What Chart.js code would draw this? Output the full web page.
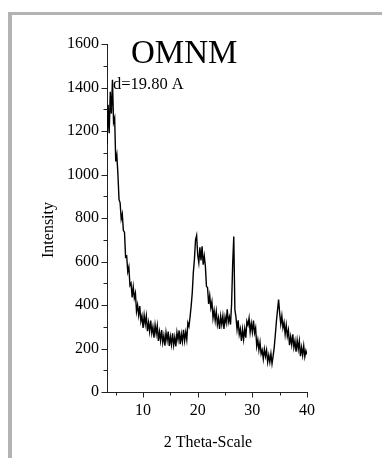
<!DOCTYPE html>
<html>
<head>
<meta charset="utf-8">
<title>OMNM</title>
<script src="https://cdn.jsdelivr.net/npm/chart.js@4/dist/chart.umd.min.js"></script>
<style>
  html, body { margin: 0; padding: 0; background: #fff; }
  #wrap { position: relative; width: 382px; height: 458px; overflow: hidden; }
  #frame {
    position: absolute; left: 8px; top: 12px; right: 0; bottom: 0;
    border-top: 3px solid #b3b3b3; border-left: 4px solid #b3b3b3;
  }
  canvas { position: absolute; left: 0; top: 0; }
</style>
</head>
<body>
<div id="wrap">
  <div id="frame"></div>
  <canvas id="xrdChart" width="382" height="458"></canvas>
</div>
<script>
// 2 theta (degrees)
const thetaValues = [
  3.4, 3.6, 3.8, 4.0, 4.2, 4.4, 4.6, 4.8, 5.0, 5.2,
  5.4, 5.6, 5.8, 6.0, 6.2, 6.4, 6.6, 6.8, 7.0, 7.2,
  7.4, 7.6, 7.8, 8.0, 8.2, 8.4, 8.6, 8.8, 9.0, 9.2,
  9.4, 9.6, 9.8, 10.0, 10.2, 10.4, 10.6, 10.8, 11.0, 11.2,
  11.4, 11.6, 11.8, 12.0, 12.2, 12.4, 12.6, 12.8, 13.0, 13.2,
  13.4, 13.6, 13.8, 14.0, 14.2, 14.4, 14.6, 14.8, 15.0, 15.2,
  15.4, 15.6, 15.8, 16.0, 16.2, 16.4, 16.6, 16.8, 17.0, 17.2,
  17.4, 17.6, 17.8, 18.0, 18.2, 18.4, 18.6, 18.8, 19.0, 19.2,
  19.4, 19.6, 19.8, 20.0, 20.2, 20.4, 20.6, 20.8, 21.0, 21.2,
  21.4, 21.6, 21.8, 22.0, 22.2, 22.4, 22.6, 22.8, 23.0, 23.2,
  23.4, 23.6, 23.8, 24.0, 24.2, 24.4, 24.6, 24.8, 25.0, 25.2,
  25.4, 25.6, 25.8, 26.0, 26.2, 26.4, 26.6, 26.8, 27.0, 27.2,
  27.4, 27.6, 27.8, 28.0, 28.2, 28.4, 28.6, 28.8, 29.0, 29.2,
  29.4, 29.6, 29.8, 30.0, 30.2, 30.4, 30.6, 30.8, 31.0, 31.2,
  31.4, 31.6, 31.8, 32.0, 32.2, 32.4, 32.6, 32.8, 33.0, 33.2,
  33.4, 33.6, 33.8, 34.0, 34.2, 34.4, 34.6, 34.8, 35.0, 35.2,
  35.4, 35.6, 35.8, 36.0, 36.2, 36.4, 36.6, 36.8, 37.0, 37.2,
  37.4, 37.6, 37.8, 38.0, 38.2, 38.4, 38.6, 38.8, 39.0, 39.2,
  39.4, 39.6, 39.8, 40.0
];

// intensity, noise included
const intensityValues = [
  1140, 1320, 1190, 1380, 1280, 1435, 1240, 1260, 1060, 1090,
  1000, 885, 870, 795, 818, 742, 735, 620, 625, 553,
  575, 490, 500, 435, 483, 432, 455, 370, 400, 353,
  395, 325, 350, 295, 353, 312, 350, 280, 320, 278,
  328, 270, 300, 250, 308, 267, 305, 235, 277, 236,
  285, 227, 260, 213, 274, 237, 278, 212, 255, 218,
  270, 215, 252, 209, 274, 240, 283, 220, 267, 232,
  286, 235, 275, 240, 318, 302, 345, 395, 455, 550,
  610, 700, 720, 630, 595, 665, 605, 670, 585, 625,
  580, 485, 480, 405, 443, 387, 415, 340, 375, 328,
  370, 310, 340, 290, 348, 310, 350, 290, 345, 318,
  380, 320, 345, 310, 405, 590, 715, 380, 345, 288,
  330, 265, 290, 235, 288, 242, 290, 250, 325, 308,
  340, 275, 315, 275, 328, 272, 295, 210, 240, 193,
  229, 175, 193, 152, 197, 164, 193, 138, 170, 137,
  176, 130, 165, 205, 262, 325, 375, 425, 362, 312,
  350, 295, 320, 265, 308, 257, 285, 215, 255, 218,
  265, 205, 235, 185, 238, 197, 235, 165, 205, 168,
  212, 162, 190, 172
];

const xTickLabels = [10, 20, 30, 40];
const xMinorTicks = [5, 15, 25, 35];
const yTickLabels = [0, 200, 400, 600, 800, 1000, 1200, 1400, 1600];
const yMinorTicks = [100, 300, 500, 700, 900, 1100, 1300, 1500];

const SERIF = '"Liberation Serif", "Times New Roman", serif';
const AXIS_COLOR = '#222';

const XrdChart = (function () {
  function init() {
    const ctx = document.getElementById("xrdChart").getContext("2d");
    const points = thetaValues.map((t, i) => ({ x: t, y: intensityValues[i] }));

    new Chart(ctx, {
      type: "line",
      data: {
        datasets: [{
          label: "OMNM",
          data: points,
          borderColor: "#000",
          borderWidth: 1.4,
          pointRadius: 0,
          tension: 0
        }]
      },
      options: {
        responsive: false,
        animation: false,
        events: [],
        layout: { padding: { left: 0, top: 44, right: 75, bottom: 0 } },
        plugins: {
          legend: { display: false },
          tooltip: { enabled: false }
        },
        scales: {
          x: {
            type: "linear",
            min: 3.4,
            max: 40,
            afterFit: s => { s.height = 66; },
            afterBuildTicks: s => { s.ticks = xTickLabels.map(v => ({ value: v })); },
            grid: { display: false, drawTicks: false },
            border: { display: true, color: AXIS_COLOR, width: 1 },
            ticks: {
              padding: 9,
              maxRotation: 0,
              color: "#000",
              font: { family: SERIF, size: 16 },
              callback: v => String(v)
            }
          },
          y: {
            min: 0,
            max: 1600,
            afterFit: s => { s.width = 107; },
            afterBuildTicks: s => { s.ticks = yTickLabels.map(v => ({ value: v })); },
            grid: { display: false, drawTicks: false },
            border: { display: true, color: AXIS_COLOR, width: 1 },
            ticks: {
              padding: 8,
              color: "#000",
              font: { family: SERIF, size: 16 },
              callback: v => String(v)
            }
          }
        }
      },
      plugins: [decorations]
    });
  }

  // tick marks (major / minor) and the free text of the figure
  const decorations = {
    id: "decorations",
    afterDraw(chart) {
      const c = chart.ctx;
      const xs = chart.scales.x;
      const ys = chart.scales.y;
      const axisY = Math.round(ys.getPixelForValue(0)) + 0.5;
      const axisX = Math.round(xs.left) + 0.5;

      c.save();
      c.strokeStyle = AXIS_COLOR;
      c.lineWidth = 1;
      c.beginPath();
      xTickLabels.forEach(v => {
        const px = Math.round(xs.getPixelForValue(v)) + 0.5;
        c.moveTo(px, axisY); c.lineTo(px, axisY + 5);
      });
      xMinorTicks.forEach(v => {
        const px = Math.round(xs.getPixelForValue(v)) + 0.5;
        c.moveTo(px, axisY); c.lineTo(px, axisY + 3);
      });
      yTickLabels.forEach(v => {
        const py = Math.round(ys.getPixelForValue(v)) + 0.5;
        c.moveTo(axisX, py); c.lineTo(axisX - 6, py);
      });
      yMinorTicks.forEach(v => {
        const py = Math.round(ys.getPixelForValue(v)) + 0.5;
        c.moveTo(axisX, py); c.lineTo(axisX - 4, py);
      });
      c.stroke();

      c.fillStyle = "#000";
      c.textBaseline = "alphabetic";

      c.textAlign = "left";
      c.font = "33px " + SERIF;
      c.fillText("OMNM", 131, 63);
      c.font = "16.5px " + SERIF;
      c.fillText("d=19.80 A", 113, 89);

      c.textAlign = "center";
      c.font = "16px " + SERIF;
      c.fillText("2 Theta-Scale", 208, 447);

      c.translate(53, 230);
      c.rotate(-Math.PI / 2);
      c.fillText("Intensity", 0, 0);
      c.restore();
    }
  };

  return { init };
})();

window.addEventListener("DOMContentLoaded", XrdChart.init);
</script>
</body>
</html>
